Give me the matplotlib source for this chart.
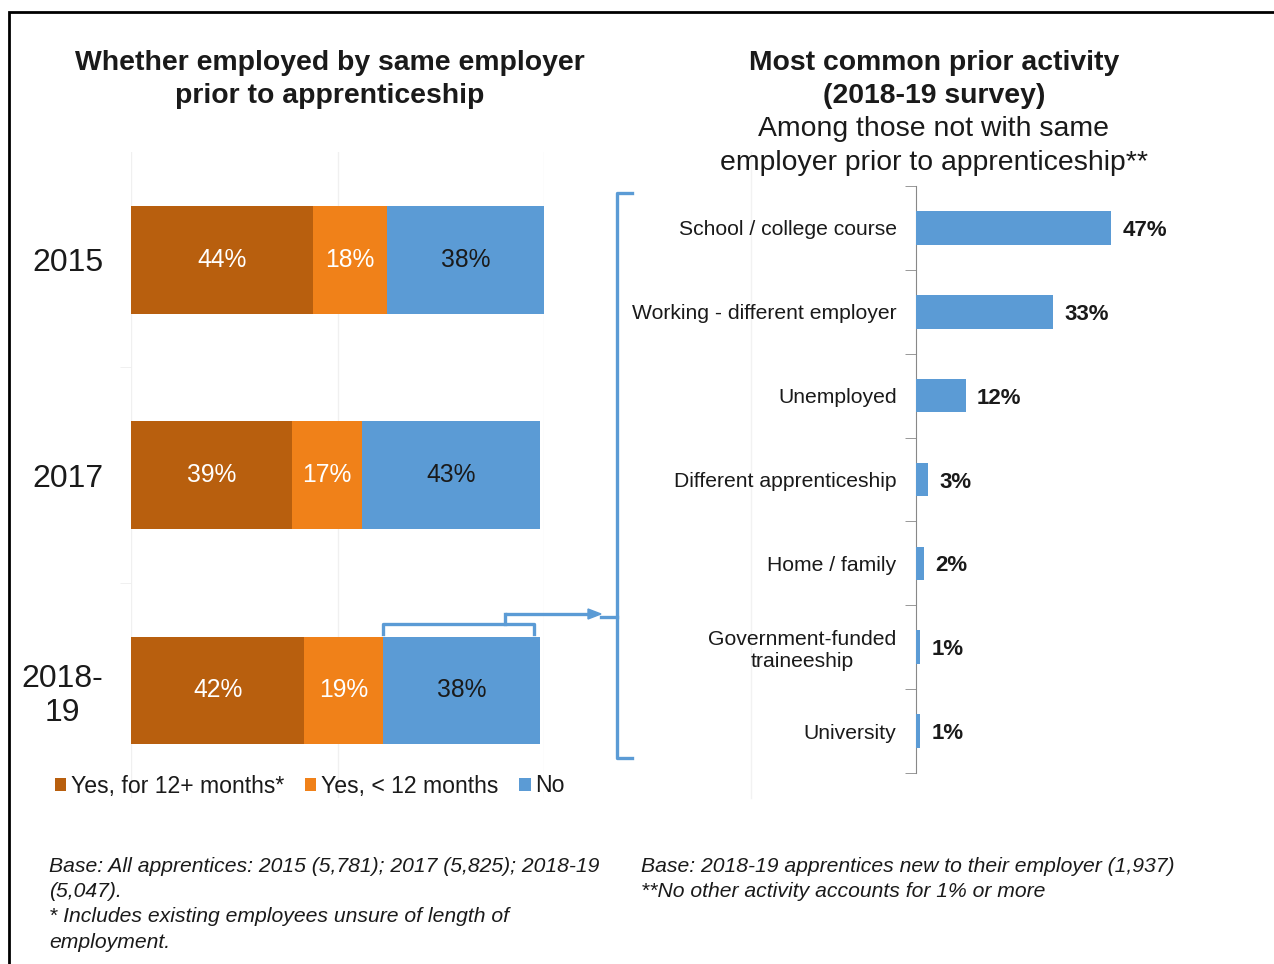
import matplotlib.pyplot as plt
from matplotlib.patches import Patch, Rectangle
from matplotlib.lines import Line2D

plt.rcParams["font.family"] = ["Liberation Sans", "DejaVu Sans"]

# Left panel: employment with same employer before apprenticeship
years = ["2015", "2017", "2018-\n19"]
yes_12plus = [44, 39, 42]
yes_under12 = [18, 17, 19]
no_prior = [38, 43, 38]
series_names = ["Yes, for 12+ months*", "Yes, < 12 months", "No"]

# Right panel: prior activity among those new to their employer
activities = [
    "School / college course",
    "Working - different employer",
    "Unemployed",
    "Different apprenticeship",
    "Home / family",
    "Government-funded\ntraineeship",
    "University",
]
activity_pct = [47, 33, 12, 3, 2, 1, 1]

DARK_ORANGE = "#B85F0E"
ORANGE = "#F08119"
BLUE = "#5B9BD5"
TEXT = "#1a1a1a"

W, H = 1274, 964
fig = plt.figure(figsize=(W / 100, H / 100), dpi=100)


def fx(x):
    return x / W


def fy(y):
    return 1 - y / H


# outer frame (runs off the right and bottom edges)
fig.patches.append(Rectangle((fx(9), fy(1000)), fx(1300), fy(12) - fy(1000),
                             transform=fig.transFigure, fill=False,
                             edgecolor="black", linewidth=2))

# faint plot-area edge of the right panel
fig.add_artist(Line2D([fx(751), fx(751)], [fy(152), fy(798)],
                      transform=fig.transFigure, color="#f2f2f2", lw=1,
                      zorder=-1))

# ---- left stacked bars ----
axl = fig.add_axes([fx(131), fy(798), fx(544) - fx(131), fy(152) - fy(798)])
axl.patch.set_alpha(0)
pos = list(range(len(years)))
colors = [DARK_ORANGE, ORANGE, BLUE]
label_colors = ["white", "white", TEXT]
left = [0] * len(years)
for vals, name, col, tcol in zip([yes_12plus, yes_under12, no_prior],
                                 series_names, colors, label_colors):
    bars = axl.barh(pos, vals, left=left, height=0.5, color=col, label=name,
                    zorder=3)
    axl.bar_label(bars, labels=[f"{v}%" for v in vals], label_type="center",
                  color=tcol, fontsize=17.7)
    left = [a + b for a, b in zip(left, vals)]

axl.set_xlim(0, 100)
axl.set_ylim(2.5, -0.5)
axl.set_xticks([0, 50, 100])
axl.grid(axis="x", color="#f0f0f0", linewidth=1, zorder=0)
axl.tick_params(axis="x", length=0, labelbottom=False)
axl.set_yticks(pos)
axl.set_yticklabels(years, fontsize=23, color=TEXT)
for lbl in axl.get_yticklabels():
    lbl.set_multialignment("center")
axl.set_yticks([0.5, 1.5], minor=True)
axl.tick_params(axis="y", which="major", length=0, pad=20)
axl.tick_params(axis="y", which="minor", length=8, color="#eeeeee")
for s in axl.spines.values():
    s.set_visible(False)

# ---- right horizontal bars ----
axr = fig.add_axes([fx(916), fy(773), fx(1248) - fx(916), fy(186) - fy(773)])
axr.patch.set_alpha(0)
rpos = list(range(len(activities)))
rbars = axr.barh(rpos, activity_pct, height=0.4, color=BLUE, zorder=3)
rlabels = axr.bar_label(rbars, labels=[f"{v}%" for v in activity_pct],
                        padding=8, fontsize=16, fontweight="bold", color=TEXT)
for t in rlabels:
    t.set_va("center_baseline")
axr.set_xlim(0, 80)
axr.set_ylim(len(activities) - 0.5, -0.5)
axr.set_yticks(rpos)
axr.set_yticklabels(activities, fontsize=15.2, color=TEXT)
for lbl in axr.get_yticklabels():
    lbl.set_multialignment("center")
axr.set_yticks([i - 0.5 for i in range(len(activities) + 1)], minor=True)
axr.tick_params(axis="y", which="major", length=0, pad=14)
axr.tick_params(axis="y", which="minor", length=8, color="#888888")
axr.tick_params(axis="x", length=0, labelbottom=False)
for name in ["top", "right", "bottom"]:
    axr.spines[name].set_visible(False)
axr.spines["left"].set_color("#888888")

# ---- titles ----
fig.text(fx(330), fy(79.5), "Whether employed by same employer\nprior to apprenticeship",
         ha="center", va="center", fontsize=20.4, fontweight="bold",
         color=TEXT, linespacing=1.36)
fig.text(fx(934), fy(79.5), "Most common prior activity\n(2018-19 survey)",
         ha="center", va="center", fontsize=20.4, fontweight="bold",
         color=TEXT, linespacing=1.36)
fig.text(fx(934), fy(146), "Among those not with same\nemployer prior to apprenticeship**",
         ha="center", va="center", fontsize=20.4, color=TEXT, linespacing=1.36)

# ---- legend ----
handles = [Patch(facecolor=c, edgecolor="none") for c in colors]
fig.legend(handles, series_names, loc="center left",
           bbox_to_anchor=(fx(34), fy(786)), ncol=3, frameon=False,
           fontsize=16.6, handlelength=0.5, handleheight=0.5,
           handletextpad=0.2, columnspacing=0.9, labelcolor=TEXT)

# ---- brackets linking the 2018-19 "No" bar to the right panel ----
bc = BLUE
blw = 2.4
no_start = yes_12plus[2] + yes_under12[2]
no_end = no_start + no_prior[2]
trans_l = axl.transData
x0 = trans_l.transform((no_start, 2))[0] / W
x1 = trans_l.transform((no_end - 1.5, 2))[0] / W
xm = x0 + (x1 - x0) * 0.81
y_top = fy(624)
y_end = fy(634)
fig.add_artist(Line2D([x0, x0, x1, x1], [y_end, y_top, y_top, y_end],
                      transform=fig.transFigure, color=bc, lw=blw,
                      solid_joinstyle="round"))
fig.add_artist(Line2D([xm, xm], [y_top, fy(614)],
                      transform=fig.transFigure, color=bc, lw=blw))
fig.add_artist(Line2D([xm, fx(590)], [fy(614), fy(614)],
                      transform=fig.transFigure, color=bc, lw=blw,
                      solid_capstyle="butt"))
fig.patches.append(plt.Polygon([(fx(588), fy(609)), (fx(601), fy(614)),
                                (fx(588), fy(619))], closed=True,
                               transform=fig.transFigure, color=bc))

# large bracket spanning the right panel
fig.add_artist(Line2D([fx(632), fx(617), fx(617), fx(632)],
                      [fy(193), fy(193), fy(758), fy(758)],
                      transform=fig.transFigure, color=bc, lw=blw,
                      solid_joinstyle="round"))
fig.add_artist(Line2D([fx(601), fx(617)], [fy(617), fy(617)],
                      transform=fig.transFigure, color=bc, lw=blw))

# ---- footnotes ----
left_notes = [
    "Base: All apprentices: 2015 (5,781); 2017 (5,825); 2018-19",
    "(5,047).",
    "* Includes existing employees unsure of length of",
    "employment.",
]
right_notes = [
    "Base: 2018-19 apprentices new to their employer (1,937)",
    "**No other activity accounts for 1% or more",
]
for i, line in enumerate(left_notes):
    fig.text(fx(49), fy(866 + 25.5 * i), line, ha="left", va="center",
             fontsize=15.2, style="italic", color=TEXT)
for i, line in enumerate(right_notes):
    fig.text(fx(641), fy(866 + 25.5 * i), line, ha="left", va="center",
             fontsize=15.2, style="italic", color=TEXT)

fig.savefig("out.png", dpi=100)
